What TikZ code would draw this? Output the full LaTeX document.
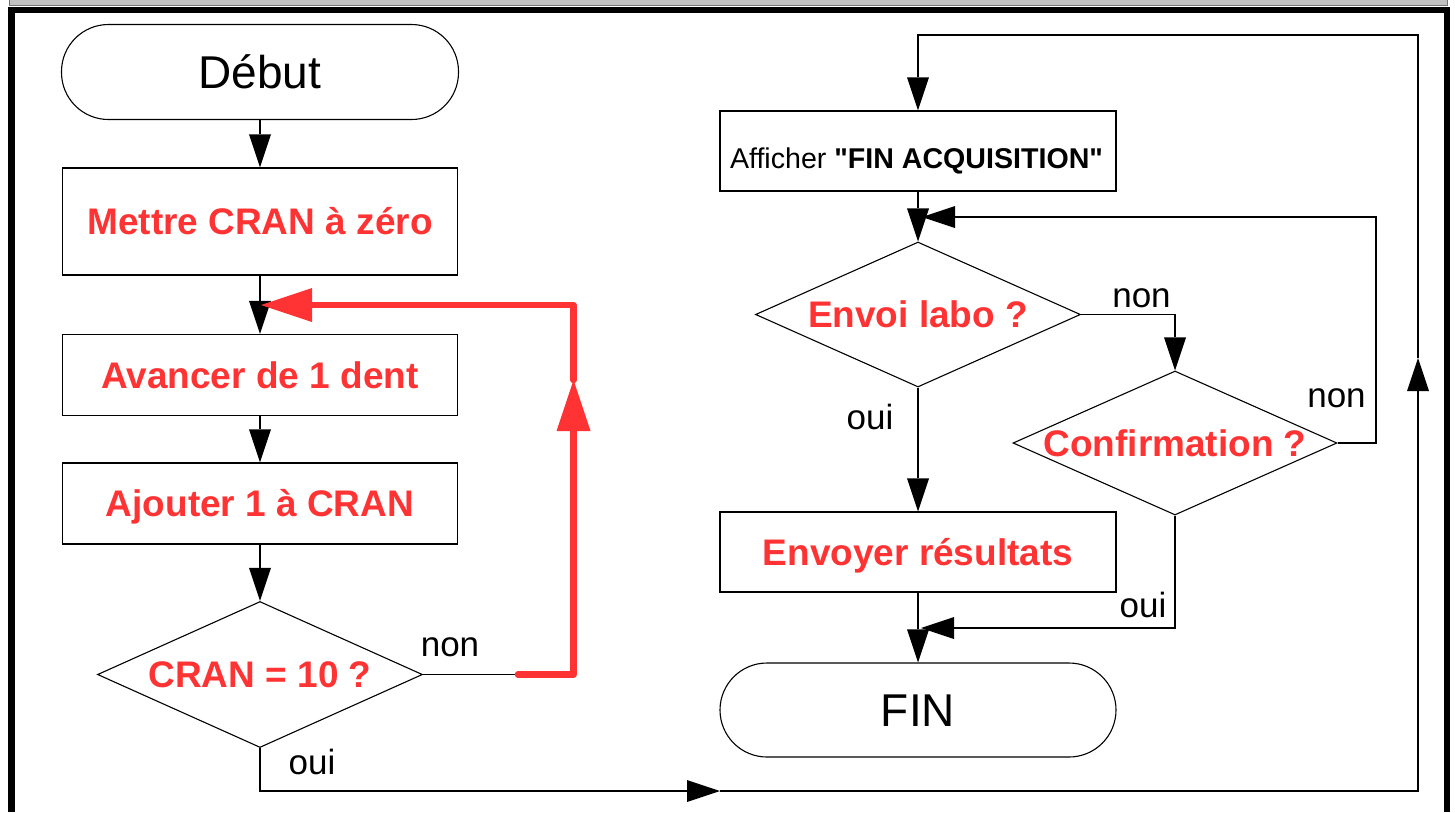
\documentclass[tikz,border=0pt]{standalone}
\usepackage{fontspec}
\setmainfont{Liberation Sans}[Ligatures=TeXOff]
\usetikzlibrary{arrows.meta,shapes.geometric}
\definecolor{myred}{RGB}{255,51,51}
\definecolor{stripgray}{RGB}{192,192,192}
\begin{document}
\begin{tikzpicture}[x=1pt,y=-1pt,
  conn/.style={line width=1.1pt, draw=black},
  arr/.style={-{Triangle[length=33pt,width=22pt,line width=0pt]}},
  redarr/.style={-{Triangle[length=51pt,width=34pt,line width=0pt]}},
  redline/.style={line width=6.5pt, draw=myred, line cap=round, line join=round},
  procbox/.style={draw, line width=1.1pt, rectangle, inner sep=0pt, minimum width=395pt, minimum height=81pt},
  termbox/.style={draw, line width=1.1pt, rectangle, rounded corners=47pt, inner sep=0pt, minimum width=397pt, minimum height=95pt, font=\fontsize{46}{50}\selectfont, text height=33pt, text depth=0pt},
  redtext/.style={text=myred, font=\bfseries\fontsize{37}{40}\selectfont, text height=26.5pt, text depth=0pt},
  decision/.style={draw, line width=1.1pt, diamond, inner sep=0pt, minimum width=325pt, minimum height=146pt},
  lbl/.style={font=\fontsize{35}{38}\selectfont, anchor=base, inner sep=0pt},
]
\useasboundingbox (0,0) rectangle (1455,812);
% window frame
\fill[stripgray] (9,0) rectangle (1447,5.5);
\draw[black!55, line width=0.8pt] (9,0) -- (9,5.5) -- (1447,5.5) -- (1447,0);
\draw[line width=6.5pt, line join=miter] (11.5,812) -- (11.5,10) -- (1447,10) -- (1447,812);

% left column
\node[termbox] (debut) at (260,72) {Début};
\node[procbox, minimum height=107pt, redtext] (mettre) at (260,221.5) {Mettre CRAN à zéro};
\node[procbox, redtext] (avancer) at (260,375) {Avancer de 1 dent};
\node[procbox, redtext] (ajouter) at (260,503.5) {Ajouter 1 à CRAN};
\node[decision] (cran) at (260,674.5) {};
\node[redtext, inner sep=0pt] (crantxt) at (cran.center) {CRAN = 10 ?};

% right column
\node[procbox, minimum width=396pt, minimum height=80pt] (afficher) at (918,151) {};
\node[font=\fontsize{28.6}{31}\selectfont, text height=20.4pt, text depth=0pt, inner sep=0pt] (affichertxt) at (916.5,158.5) {Afficher \textbf{"FIN ACQUISITION"}};
\node[decision, minimum width=325pt, minimum height=145pt] (envoi) at (918,314.5) {};
\node[redtext, inner sep=0pt] (envoitxt) at (envoi.center) {Envoi labo ?};
\node[decision, minimum width=324pt, minimum height=144pt] (confirm) at (1175,443) {};
\node[redtext, inner sep=0pt] (confirmtxt) at (confirm.center) {Confirmation ?};
\node[procbox, minimum width=396pt, minimum height=80pt, redtext] (envoyer) at (918,552) {Envoyer résultats};
\node[termbox, minimum width=396pt, minimum height=94pt] (fin) at (918,710) {FIN};

% labels
\node[lbl] (non1) at (450,656) {non};
\node[lbl] (oui1) at (312,774) {oui};
\node[lbl] (non2) at (1141.5,307) {non};
\node[lbl] (non3) at (1336.5,407) {non};
\node[lbl] (oui2) at (870,429) {oui};
\node[lbl] (oui3) at (1143,617) {oui};

% coordinates
\coordinate (r1) at (518,674.5);
\coordinate (r2) at (573.5,674.5);
\coordinate (r3) at (573.5,380);
\coordinate (r4) at (573.5,305);
\coordinate (r5) at (261,305);
\coordinate (b1) at (260,791);
\coordinate (b2) at (720,791);
\coordinate (b3) at (1418,791);
\coordinate (b4) at (1418,358);
\coordinate (b5) at (1418,35);
\coordinate (b6) at (918,35);
\coordinate (e1) at (1175,314.5);
\coordinate (n1) at (1376,443);
\coordinate (n2) at (1376,217);
\coordinate (n3) at (922,217);
\coordinate (o1) at (1175,628);
\coordinate (o2) at (921,628);

% left connectors
\draw[conn, arr] (debut.south) -- (mettre.north);
\draw[conn, arr] (mettre.south) -- (avancer.north);
\draw[conn, arr] (avancer.south) -- (ajouter.north);
\draw[conn, arr] (ajouter.south) -- (cran.north);
\draw[conn] (cran.east) -- (r1);
\draw[redline, redarr] (r1) -- (r2) -- (r3);
\draw[redline, redarr] (r3) -- (r4) -- (r5);

% bottom loop
\draw[conn, arr] (cran.south) -- (b1) -- (b2);
\draw[conn, arr] (b2) -- (b3) -- (b4);
\draw[conn, arr] (b4) -- (b5) -- (b6) -- (afficher.north);

% right connectors
\draw[conn, arr] (afficher.south) -- (envoi.north);
\draw[conn, arr] (envoi.east) -- (e1) -- (confirm.north);
\draw[conn, arr] (confirm.east) -- (n1) -- (n2) -- (n3);
\draw[conn, arr] (envoi.south) -- (envoyer.north);
\draw[conn, arr] (confirm.south) -- (o1) -- (o2);
\draw[conn, arr] (envoyer.south) -- (fin.north);
\end{tikzpicture}
\end{document}
